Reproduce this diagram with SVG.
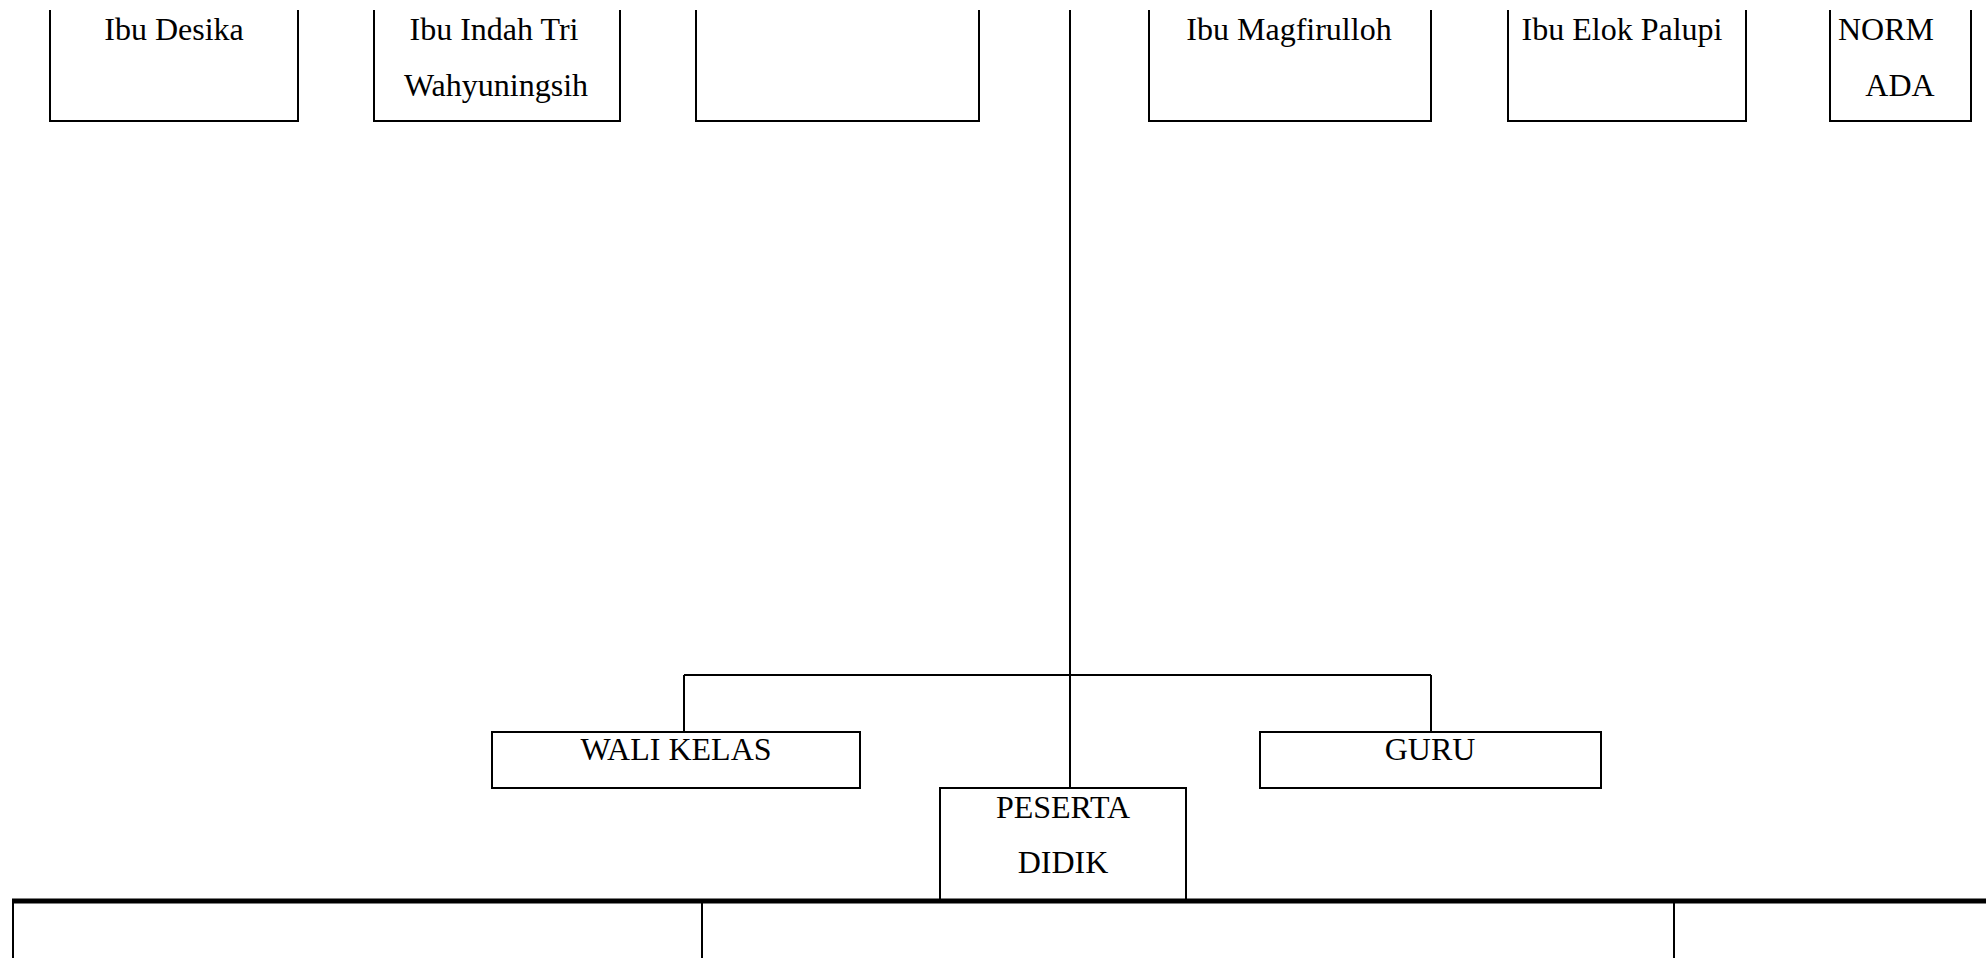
<svg xmlns="http://www.w3.org/2000/svg" width="1986" height="958" viewBox="0 0 1986 958">
<style>
.box{fill:none;stroke:#000;stroke-width:2}
.ln{fill:none;stroke:#000;stroke-width:2}
.thick{fill:none;stroke:#000;stroke-width:5}
text{font-family:"Liberation Serif","Times New Roman",serif;font-size:32px;fill:#000;text-anchor:middle}
</style>
<rect x="0" y="0" width="1986" height="958" fill="#fff"/>
<g id="connectors">
<line class="ln" x1="1070" y1="10" x2="1070" y2="788"/>
<line class="ln" x1="684" y1="675" x2="1431" y2="675"/>
<line class="ln" x1="684" y1="675" x2="684" y2="732"/>
<line class="ln" x1="1431" y1="675" x2="1431" y2="732"/>
</g>
<g id="n-desika">
<path class="box" d="M50,10 V121 H298 V10"/>
<text x="174" y="40">Ibu Desika</text>
</g>
<g id="n-indah">
<path class="box" d="M374,10 V121 H620 V10"/>
<text x="494" y="40">Ibu Indah Tri</text>
<text x="496" y="96">Wahyuningsih</text>
</g>
<g id="n-empty">
<path class="box" d="M696,10 V121 H979 V10"/>
</g>
<g id="n-magfirulloh">
<path class="box" d="M1149,10 V121 H1431 V10"/>
<text x="1289" y="40">Ibu Magfirulloh</text>
</g>
<g id="n-elok">
<path class="box" d="M1508,10 V121 H1746 V10"/>
<text x="1622" y="40">Ibu Elok Palupi</text>
</g>
<g id="n-normada">
<path class="box" d="M1830,10 V121 H1971 V10"/>
<text x="1886" y="40">NORM</text>
<text x="1900" y="96">ADA</text>
</g>
<g id="n-wali">
<rect class="box" x="492" y="732" width="368" height="56"/>
<text x="676" y="760">WALI KELAS</text>
</g>
<g id="n-guru">
<rect class="box" x="1260" y="732" width="341" height="56"/>
<text x="1430" y="760">GURU</text>
</g>
<g id="n-peserta">
<rect class="box" x="940" y="788" width="246" height="113"/>
<text x="1063" y="818">PESERTA</text>
<text x="1063" y="873">DIDIK</text>
</g>
<g id="table">
<line class="thick" x1="12" y1="901" x2="1986" y2="901"/>
<line class="ln" x1="13" y1="901" x2="13" y2="958"/>
<line class="ln" x1="702" y1="901" x2="702" y2="958"/>
<line class="ln" x1="1674" y1="901" x2="1674" y2="958"/>
</g>
</svg>
